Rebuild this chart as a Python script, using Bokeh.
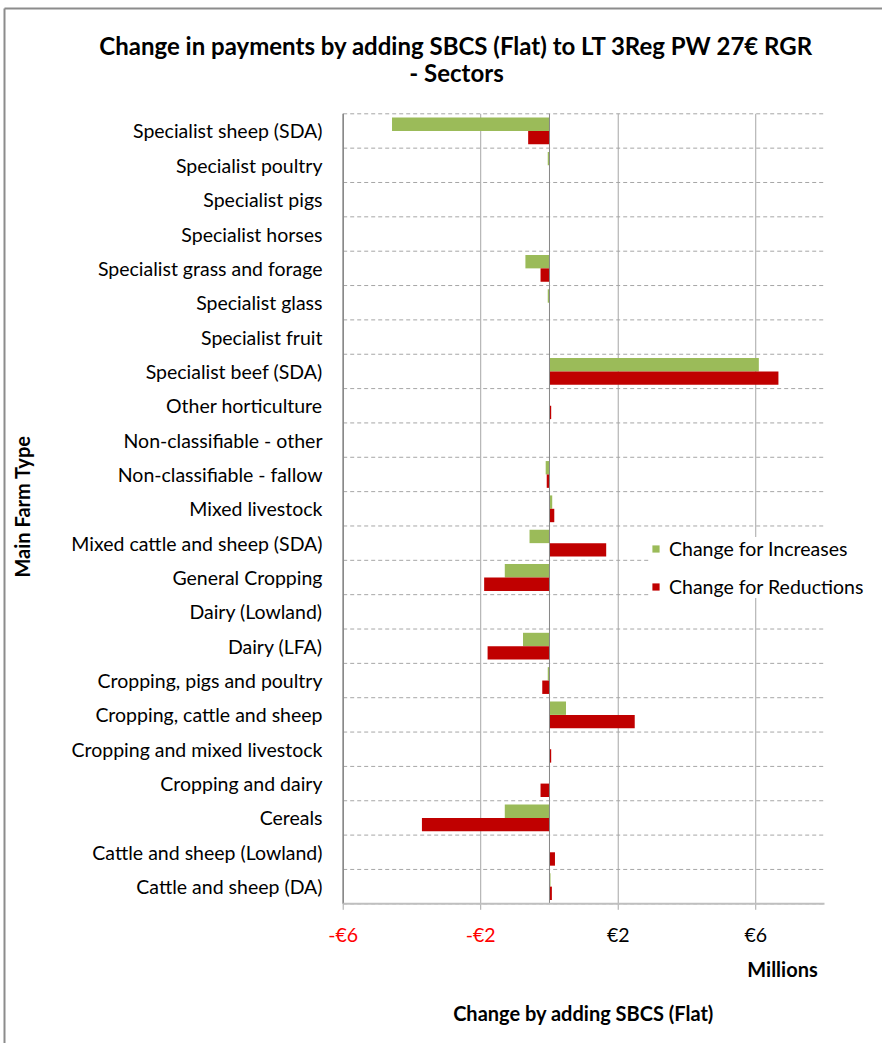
import numpy as np
from bokeh.plotting import figure
from bokeh.models import (Range1d, Legend, LegendItem, Label, LabelSet,
                          ColumnDataSource)
from bokeh.core.properties import value
from bokeh.embed import file_html
from bokeh.resources import INLINE

# ---------------- data (top to bottom) ----------------
categories = [
    "Specialist sheep (SDA)", "Specialist poultry", "Specialist pigs",
    "Specialist horses", "Specialist grass and forage", "Specialist glass",
    "Specialist fruit", "Specialist beef (SDA)", "Other horticulture",
    "Non-classifiable - other", "Non-classifiable - fallow", "Mixed livestock",
    "Mixed cattle and sheep (SDA)", "General Cropping", "Dairy (Lowland)",
    "Dairy (LFA)", "Cropping, pigs and poultry", "Cropping, cattle and sheep",
    "Cropping and mixed livestock", "Cropping and dairy", "Cereals",
    "Cattle and sheep (Lowland)", "Cattle and sheep (DA)",
]
increases = [-4.58, -0.05, 0.0, 0.0, -0.70, -0.05, 0.0, 6.09, 0.0, 0.0, -0.11,
             0.08, -0.58, -1.30, 0.0, -0.77, -0.05, 0.48, 0.0, 0.0, -1.30, 0.0, 0.03]
reductions = [-0.62, 0.0, 0.0, 0.0, -0.26, 0.0, 0.0, 6.66, 0.05, 0.0, -0.08,
              0.14, 1.65, -1.90, 0.0, -1.80, -0.21, 2.48, 0.05, -0.26, -3.71, 0.16, 0.07]
x_min, x_max = -6, 8
x_ticks = [-6, -2, 2, 6]
x_tick_labels = ["-€6", "-€2", "€2", "€6"]
x_tick_colors = ["#FF0000", "#FF0000", "#000000", "#000000"]

title_lines = ["Change in payments by adding SBCS (Flat) to LT 3Reg PW 27€ RGR", "- Sectors"]
y_title = "Main Farm Type"
x_unit = "Millions"
x_title = "Change by adding SBCS (Flat)"
series_names = ["Change for Increases", "Change for Reductions"]

GREEN = "#9BBB59"
RED = "#C00000"
GRID = "#A6A6A6"
AXIS = "#868686"
FONT = "Lato"

n = len(categories)
centers = n - np.arange(n) - 0.5
BAR_H = 0.39
OFF = BAR_H / 2

# ---------------- geometry (canvas pixels) ----------------
W, H = 882, 1043
PLOT_L, PLOT_R = 342.7, 824.0     # x_min / x_max
PLOT_T, PLOT_B = 113.3, 903.3     # y = n / y = 0
px_x = (PLOT_R - PLOT_L) / (x_max - x_min)
px_y = (PLOT_B - PLOT_T) / n


def X(cx):
    return x_min + (cx - PLOT_L) / px_x


def Y(cy):
    return (PLOT_B - cy) / px_y


p = figure(width=W, height=H, x_range=Range1d(X(0), X(W)), y_range=Range1d(Y(H), Y(0)),
           output_backend="svg", toolbar_location=None,
           min_border_left=0, min_border_right=0, min_border_top=0, min_border_bottom=0)
p.outline_line_color = None
p.background_fill_color = "white"
p.border_fill_color = "white"
p.axis.visible = False
p.grid.visible = False

# outer chart border (top and left edges visible in the reference)
p.segment(x0=[X(4), X(4)], y0=[Y(8), Y(8)], x1=[X(W + 5), X(4)], y1=[Y(8), Y(H + 5)],
          line_color="#8C8C8C", line_width=2)

# horizontal dashed category separators
hg = ColumnDataSource(dict(y=list(range(n + 1))))
p.segment(x0=x_min, y0="y", x1=x_max, y1="y", source=hg, line_color=GRID,
          line_dash="4 3", line_width=1)

# vertical value gridlines + tick marks
tick_src = ColumnDataSource(dict(x=x_ticks, y0=[0] * len(x_ticks), y1=[n] * len(x_ticks),
                                 yt=[-6 / px_y] * len(x_ticks),
                                 yl=[Y(934)] * len(x_ticks),
                                 text=x_tick_labels, color=x_tick_colors))
p.segment(x0="x", y0="y0", x1="x", y1="y1", source=tick_src, line_color=GRID, line_width=1)
p.segment(x0="x", y0="y0", x1="x", y1="yt", source=tick_src, line_color=GRID, line_width=1)

src = ColumnDataSource(dict(y_inc=centers + OFF, y_red=centers - OFF,
                            inc=increases, red=reductions))
g = p.hbar(y="y_inc", left=0, right="inc", height=BAR_H, source=src,
           fill_color=GREEN, line_color=None)
r = p.hbar(y="y_red", left=0, right="red", height=BAR_H, source=src,
           fill_color=RED, line_color=None)

# zero line, left line and value axis line
p.segment(x0=[0], y0=[0], x1=[0], y1=[n], line_color=AXIS, line_width=1)
p.segment(x0=[x_min], y0=[0], x1=[x_min], y1=[n], line_color=AXIS, line_width=1.5)
p.segment(x0=[x_min], y0=[0], x1=[x_max], y1=[0], line_color="#BFBFBF", line_width=2)

# tick labels
p.add_layout(LabelSet(x="x", y="yl", text="text", source=tick_src, text_color="color",
                      text_align="center", text_baseline="middle",
                      text_font=value(FONT), text_font_size="19.5px"))

# category labels
cat_src = ColumnDataSource(dict(x=[X(322)] * n, y=centers, text=categories))
p.add_layout(LabelSet(x="x", y="y", text="text", source=cat_src, text_color="#000000",
                      text_align="right", text_baseline="middle",
                      text_font=value(FONT), text_font_size="19.5px"))

# titles
for txt, cy in [(title_lines[0], 45), (title_lines[1], 72)]:
    p.add_layout(Label(x=X(456), y=Y(cy), text=txt, text_align="center",
                       text_baseline="middle", text_font=FONT, text_color="#000000",
                       text_font_style="bold", text_font_size="24px"))
p.add_layout(Label(x=X(21), y=Y(506), text=y_title, angle=np.pi / 2,
                   text_align="center", text_baseline="middle", text_font=FONT,
                   text_color="#000000", text_font_style="bold", text_font_size="20px"))
p.add_layout(Label(x=X(782), y=Y(968), text=x_unit, text_align="center",
                   text_baseline="middle", text_font=FONT, text_color="#000000",
                   text_font_style="bold", text_font_size="20px"))
p.add_layout(Label(x=X(583), y=Y(1012), text=x_title, text_align="center",
                   text_baseline="middle", text_font=FONT, text_color="#000000",
                   text_font_style="bold", text_font_size="20px"))

legend = Legend(items=[LegendItem(label=series_names[0], renderers=[g]),
                       LegendItem(label=series_names[1], renderers=[r])],
                location=(651, H - 598), orientation="vertical",
                border_line_color=None, background_fill_color="white",
                background_fill_alpha=1.0, glyph_width=9, glyph_height=9,
                label_standoff=9, padding=9, spacing=15, label_height=23,
                margin=0, label_text_font=FONT, label_text_font_size="19.5px",
                label_text_color="#000000")
p.add_layout(legend)

open("out.html", "w").write(file_html(p, INLINE))
